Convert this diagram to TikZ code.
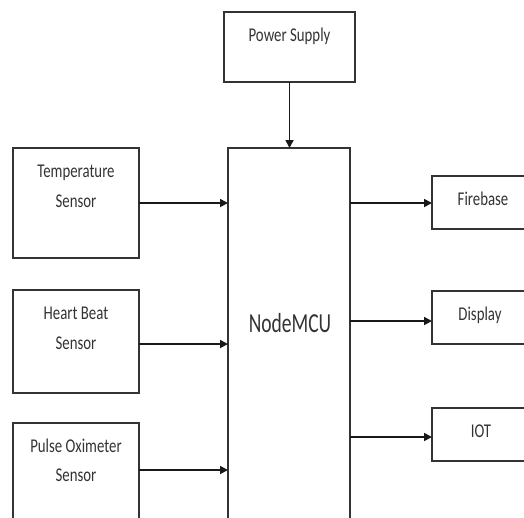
\documentclass[tikz,border=0pt]{standalone}
\usepackage{fontspec}
\setmainfont{Carlito}
\usetikzlibrary{arrows.meta}
\newcommand{\sqz}[1]{\scalebox{0.76}[1]{#1}}
\newcommand{\sqzb}[1]{\scalebox{0.71}[1]{#1}}
\begin{document}
\begin{tikzpicture}[x=1pt,y=-1pt,
  box/.style={draw=black!80, line width=1.6pt, inner sep=0pt, outer sep=0pt},
  lbl/.style={text=black!80, font=\fontsize{19.5}{22}\selectfont, inner sep=0pt, anchor=base},
  arr/.style={draw=black!90, line width=1.7pt, -{Triangle[length=8pt,width=8pt]}}]
\useasboundingbox (0,0) rectangle (524,517);
\clip (0,0) rectangle (524,517);
% boxes
\node[box, minimum width=131pt, minimum height=70pt] (pow) at (289.5,47) {};
\node[box, minimum width=122pt, minimum height=380pt] (mcu) at (289,338) {};
\node[box, minimum width=126pt, minimum height=110pt] (temp) at (76,203) {};
\node[box, minimum width=126pt, minimum height=103pt] (heart) at (76,341.5) {};
\node[box, minimum width=126pt, minimum height=110pt] (pulse) at (76,478) {};
\node[box, minimum width=100pt, minimum height=53pt] (fire) at (482,202.5) {};
\node[box, minimum width=100pt, minimum height=53pt] (disp) at (482,317.5) {};
\node[box, minimum width=100pt, minimum height=53pt] (iot) at (482,434.5) {};
% texts
\node[lbl] (tpow) at (289.5,41.5) {\sqz{Power Supply}};
\node[lbl, font=\fontsize{27.5}{30}\selectfont] (tmcu) at (290,332) {\sqzb{NodeMCU}};
\node[lbl] (ttemp1) at (76,177.7) {\sqz{Temperature}};
\node[lbl] (ttemp2) at (76,207) {\sqz{Sensor}};
\node[lbl] (theart1) at (76,319.3) {\sqz{Heart Beat}};
\node[lbl] (theart2) at (76,349) {\sqz{Sensor}};
\node[lbl] (tpulse1) at (76,452.7) {\sqz{Pulse Oximeter}};
\node[lbl] (tpulse2) at (76,481.7) {\sqz{Sensor}};
\node[lbl] (tfire) at (483,205) {\sqz{Firebase}};
\node[lbl] (tdisp) at (480,320.7) {\sqz{Display}};
\node[lbl] (tiot) at (481,437.7) {\sqz{IOT}};
% connectors
\draw[arr] (pow.south) -- (pow.south |- mcu.north);
\draw[arr] (temp.east) -- (temp.east -| mcu.west);
\draw[arr] (heart.east |- 0,344) -- (mcu.west |- 0,344);
\draw[arr] (pulse.east |- 0,470) -- (mcu.west |- 0,470);
\draw[arr] (mcu.east |- 0,203) -- (fire.west |- 0,203);
\draw[arr] (mcu.east |- 0,321) -- (disp.west |- 0,321);
\draw[arr] (mcu.east |- 0,437) -- (iot.west |- 0,437);
\end{tikzpicture}
\end{document}
